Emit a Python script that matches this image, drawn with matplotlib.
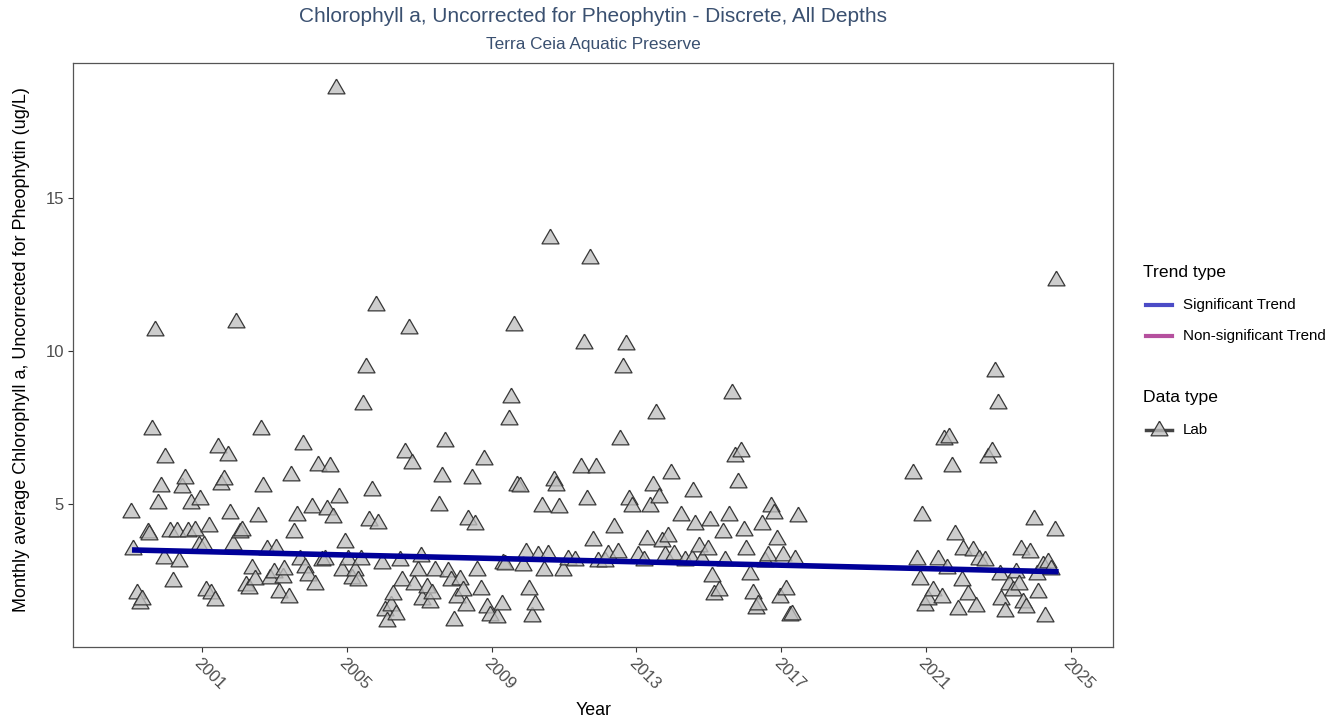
import matplotlib
matplotlib.use("Agg")
import matplotlib.pyplot as plt
from matplotlib.lines import Line2D
import numpy as np

plt.rcParams['font.family'] = ['Liberation Sans', 'DejaVu Sans']

# ---- data (fractional year, monthly average chlorophyll a, ug/L) ----
years = [
    1999.04, 1999.09, 1999.21, 1999.30, 1999.34, 1999.51, 1999.55, 1999.63, 1999.70, 1999.78,
    1999.87, 1999.94, 1999.97, 2000.12, 2000.20, 2000.31, 2000.37, 2000.45, 2000.54, 2000.61,
    2000.70, 2000.80, 2000.91, 2000.95, 2001.05, 2001.12, 2001.20, 2001.26, 2001.37, 2001.44,
    2001.53, 2001.60, 2001.71, 2001.78, 2001.87, 2001.95, 2002.06, 2002.10, 2002.22, 2002.29,
    2002.38, 2002.46, 2002.54, 2002.62, 2002.70, 2002.80, 2002.89, 2002.98, 2003.05, 2003.12,
    2003.23, 2003.26, 2003.40,
    2003.45, 2003.54, 2003.62, 2003.71, 2003.79, 2003.84, 2003.93, 2004.04, 2004.12, 2004.20,
    2004.31, 2004.40, 2004.45, 2004.54, 2004.63, 2004.70, 2004.78, 2004.86, 2004.96, 2005.04,
    2005.14, 2005.23, 2005.31, 2005.39, 2005.46, 2005.54, 2005.62, 2005.70, 2005.80, 2005.87,
    2005.96, 2006.05, 2006.11, 2006.22, 2006.28, 2006.37, 2006.47, 2006.53, 2006.62, 2006.71,
    2006.79, 2006.87, 2006.96, 2007.04, 2007.09, 2007.21, 2007.30, 2007.35, 2007.45, 2007.54,
    2007.62, 2007.70, 2007.81, 2007.88, 2007.96, 2008.05, 2008.13, 2008.20, 2008.29, 2008.36,
    2008.46, 2008.54, 2008.61, 2008.71, 2008.79, 2008.86, 2008.96, 2009.14, 2009.28, 2009.32,
    2009.37, 2009.47, 2009.55, 2009.63, 2009.71, 2009.78, 2009.87, 2009.96, 2010.04, 2010.12,
    2010.19, 2010.29, 2010.38, 2010.46, 2010.55, 2010.61, 2010.71, 2010.79, 2010.87, 2010.96,
    2011.12, 2011.30, 2011.46, 2011.54, 2011.63, 2011.72, 2011.79, 2011.88, 2011.95, 2012.13,
    2012.21, 2012.38, 2012.48, 2012.54, 2012.63, 2012.71, 2012.80, 2012.87, 2013.03, 2013.20,
    2013.29, 2013.38, 2013.46, 2013.54, 2013.63, 2013.72, 2013.80, 2013.87, 2013.96, 2014.05,
    2014.22, 2014.33, 2014.53, 2014.55, 2014.63, 2014.72, 2014.81, 2014.98, 2015.03, 2015.08,
    2015.13,
    2015.27, 2015.38, 2015.46, 2015.56, 2015.63, 2015.72, 2015.80, 2015.89, 2015.96, 2016.04,
    2016.14, 2016.21, 2016.30, 2016.37, 2016.46, 2016.55, 2016.64, 2016.72, 2016.80, 2016.88,
    2016.97, 2017.05, 2017.14, 2017.24, 2017.30, 2017.38, 2017.46,
    2020.63, 2020.75, 2020.84, 2020.88, 2020.97, 2021.06, 2021.19, 2021.33, 2021.44, 2021.49,
    2021.59, 2021.64, 2021.72, 2021.80, 2021.87, 2022.00, 2022.03, 2022.16, 2022.29, 2022.38,
    2022.45, 2022.63, 2022.72, 2022.82, 2022.89, 2022.98, 2023.04, 2023.08, 2023.19, 2023.30,
    2023.39, 2023.47, 2023.57, 2023.62, 2023.68, 2023.77, 2023.87, 2023.97, 2024.05, 2024.09,
    2024.23, 2024.27, 2024.37, 2024.46, 2024.56, 2024.60,
]
chla = [
    4.81, 3.60, 2.18, 1.86, 1.99, 4.16, 4.10, 7.53, 10.74, 5.10,
    5.65, 3.31, 6.61, 4.18, 2.55, 4.18, 3.20, 5.63, 5.93, 4.18,
    5.10, 4.21, 3.73, 5.25, 3.75, 2.26, 4.35, 2.17, 1.93, 6.93,
    5.74, 5.88, 6.68, 4.78, 3.78, 11.00, 4.16, 4.24, 2.44, 2.33,
    2.99, 2.64, 4.68, 7.51, 5.65, 3.62, 2.66, 2.86, 3.65, 2.20,
    2.69, 2.96, 2.04,
    6.03, 4.16, 4.73, 3.27, 7.02, 3.02, 2.75, 4.98, 2.47, 6.36,
    3.24, 3.29, 4.90, 6.30, 4.65, 18.64, 5.30, 2.91, 3.83, 3.29,
    2.66, 2.91, 2.60, 3.29, 8.33, 9.53, 4.54, 5.52, 11.55, 4.46,
    3.15, 1.61, 1.26, 1.77, 2.15, 1.48, 3.24, 2.58, 6.76, 10.81,
    6.41, 2.47, 2.91, 3.38, 1.97, 2.37, 1.88, 2.18, 2.91, 5.03,
    5.98, 7.14, 2.88, 2.58, 1.28, 2.04, 2.64, 2.26, 1.77, 4.57,
    5.93, 4.41, 2.91, 2.31, 6.55, 1.71, 1.44, 1.39, 1.82, 3.15,
    3.13, 7.86, 8.56, 10.90, 5.70, 5.66, 3.07, 3.51, 2.29, 1.41,
    1.82, 3.42, 5.01, 2.91, 3.45, 13.75, 5.85, 5.70, 4.98, 2.93,
    3.29, 3.24, 6.28, 10.33, 5.25, 13.09, 3.89, 6.28, 3.20, 3.20,
    3.43, 4.32, 3.51, 7.18, 9.54, 10.29, 5.25, 5.01, 3.40, 3.24,
    3.94, 5.01, 5.70, 8.04, 5.30, 3.86, 3.40, 4.02, 6.08, 3.45,
    4.70, 3.26, 3.29, 5.49, 4.43, 3.69, 3.29, 3.62, 4.54, 2.73,
    2.15,
    2.26, 4.16, 3.26, 4.72, 8.69, 6.64, 5.79, 6.80, 4.22, 3.62,
    2.80, 2.17, 1.68, 1.80, 4.43, 3.20, 3.42, 5.01, 4.79, 3.94,
    2.04, 3.40, 2.31, 1.46, 1.50, 3.29, 4.68,
    6.08, 3.27, 2.64, 4.70, 1.77, 1.99, 2.26, 3.27, 2.04, 7.20,
    2.99, 7.26, 6.31, 4.10, 1.66, 2.58, 3.62, 2.15, 3.56, 1.75,
    3.27, 3.24, 6.61, 6.80, 9.40, 8.38, 2.80, 1.99, 1.57, 2.47,
    2.26, 2.86, 2.47, 3.60, 1.88, 1.72, 3.51, 4.60, 2.80, 2.20,
    3.09, 1.42, 3.18, 2.96, 4.24, 12.38,
]
trend_years = [1999.07, 2024.66]
trend_values = [3.51, 2.80]

x_ticks = [2001, 2005, 2009, 2013, 2017, 2021, 2025]
y_ticks = [5, 10, 15]

title = "Chlorophyll a, Uncorrected for Pheophytin - Discrete, All Depths"
subtitle = "Terra Ceia Aquatic Preserve"
ylabel = "Monthly average Chlorophyll a, Uncorrected for Pheophytin (ug/L)"
xlabel = "Year"

# ---- figure ----
W, H = 1340, 723
fig = plt.figure(figsize=(W / 100, H / 100), dpi=100)
L, R, T, B = 73, 1113.3, 62.7, 646.7
ax = fig.add_axes([L / W, 1 - B / H, (R - L) / W, (B - T) / H])

tri = [(0, 0.75), (-0.866, -0.75), (0.866, -0.75), (0, 0.75)]

ax.scatter(years, chla, marker=tri, s=150, facecolor=(0.75, 0.75, 0.75, 0.78),
           edgecolor='#383838', linewidths=0.9, zorder=3)
ax.plot(trend_years, trend_values, color='#000099', lw=4.0, solid_capstyle='butt', zorder=4)

ax.set_xlim(1997.44, 2026.17)
ax.set_ylim(0.355, 19.40)
ax.set_xticks(x_ticks)
ax.set_xticklabels([str(t) for t in x_ticks], rotation=-45, ha='left', va='top',
                   rotation_mode='anchor')
ax.set_yticks(y_ticks)
ax.set_yticklabels([str(t) for t in y_ticks])
ax.tick_params(axis='both', length=3.5, width=0.8, color='#333333',
               labelcolor='#4d4d4d', labelsize=12, pad=3)
for s in ax.spines.values():
    s.set_color('#555555')
    s.set_linewidth(0.9)

ax.set_xlabel(xlabel, fontsize=12.8, color='black', labelpad=7)
ax.set_ylabel(ylabel, fontsize=13, color='black')
ax.yaxis.set_label_coords(-0.0415, 0.509)

def fx(x):
    return x / W

def fy(y):
    return 1 - y / H

cx = (L + R) / 2
fig.text(fx(cx), fy(17), title, fontsize=15, color='#3a5070', ha='center', va='center')
fig.text(fx(cx), fy(44), subtitle, fontsize=12.4, color='#3a5070', ha='center', va='center')

# ---- legend (manual, ggplot-like) ----
fig.text(fx(1143), fy(273), "Trend type", fontsize=12.6, color='black', ha='left', va='center')
fig.add_artist(Line2D([fx(1146), fx(1172)], [fy(305), fy(305)], color='#4b4bc6', lw=3,
                      transform=fig.transFigure))
fig.text(fx(1183), fy(305), "Significant Trend", fontsize=10.9, ha='left', va='center')
fig.add_artist(Line2D([fx(1146), fx(1172)], [fy(336), fy(336)], color='#b5509e', lw=3,
                      transform=fig.transFigure))
fig.text(fx(1183), fy(336), "Non-significant Trend", fontsize=10.9, ha='left', va='center')

fig.text(fx(1143), fy(397), "Data type", fontsize=12.6, color='black', ha='left', va='center')
fig.add_artist(Line2D([fx(1146), fx(1172)], [fy(430), fy(430)], color='#444444', lw=2.5,
                      transform=fig.transFigure))
fig.add_artist(Line2D([fx(1159)], [fy(428)], marker=tri, markersize=12.2, linestyle='none',
                      markerfacecolor=(0.75, 0.75, 0.75, 0.78), markeredgecolor='#383838',
                      markeredgewidth=0.9, transform=fig.transFigure))
fig.text(fx(1183), fy(430), "Lab", fontsize=10.9, ha='left', va='center')

fig.savefig("out.png", dpi=100)
